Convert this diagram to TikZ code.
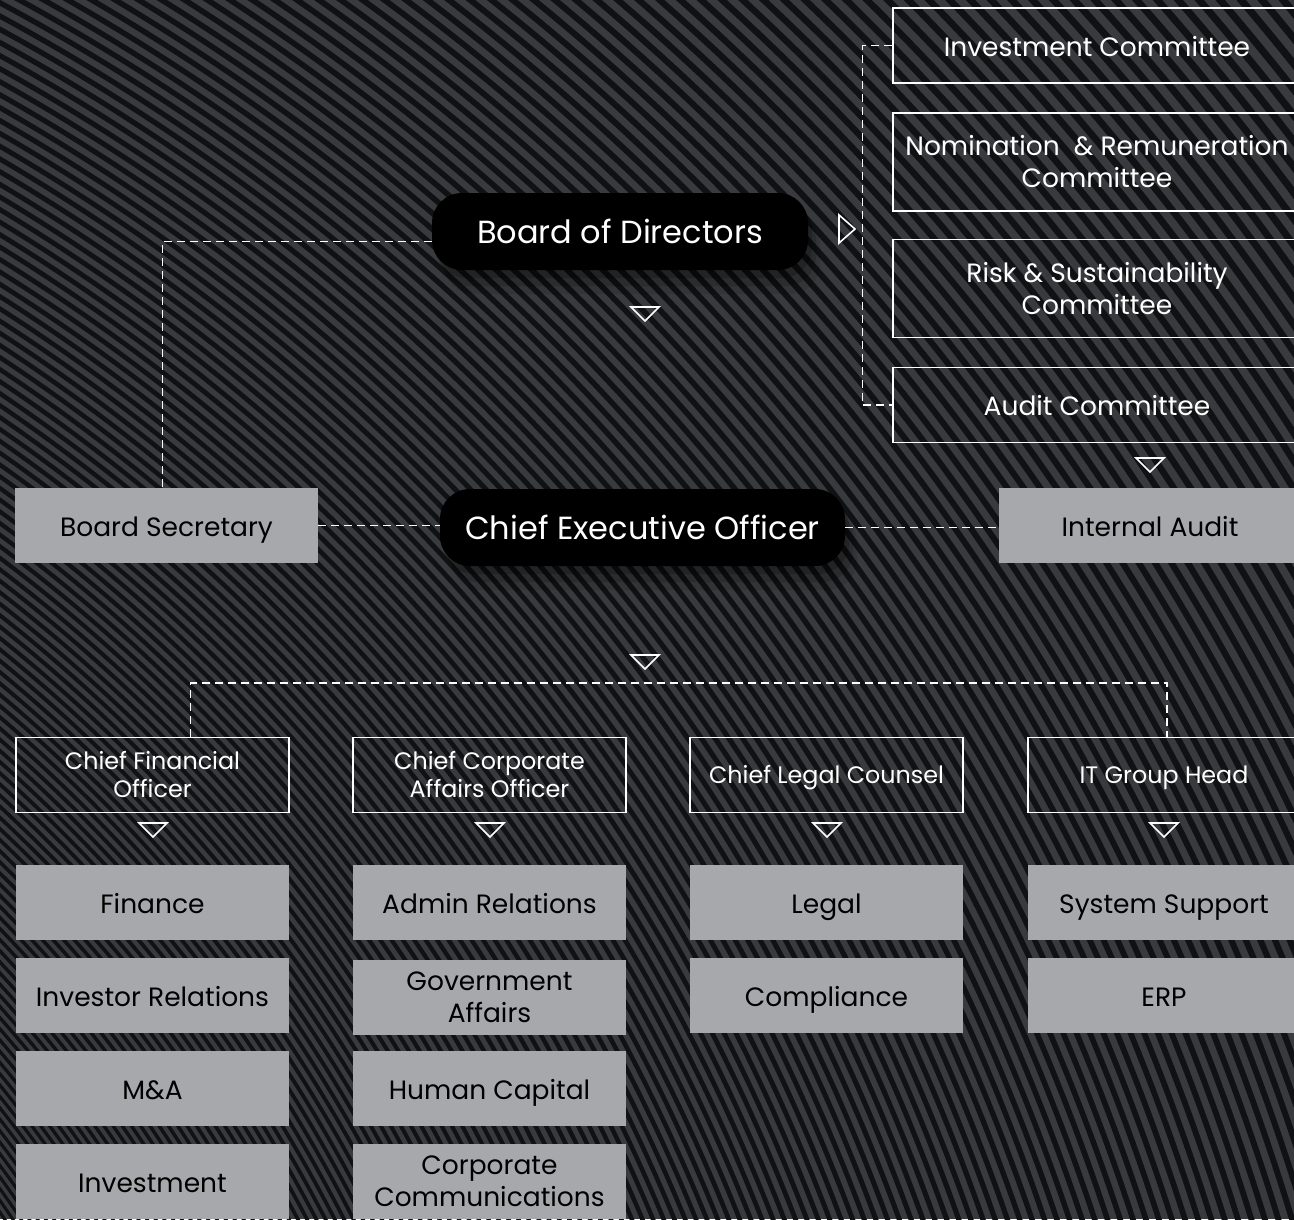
\documentclass[tikz,border=0pt]{standalone}
\usepackage{fontspec}
\setmainfont{Poppins}
\usepackage{tikz}
\usetikzlibrary{shadows}

\definecolor{bggray}{RGB}{56,58,61}
\definecolor{stripe}{RGB}{16,17,18}
\definecolor{unitgray}{RGB}{167,168,172}

\begin{document}
\begin{tikzpicture}%
        [x=1pt,
        y=-1pt,
        oneline/.style={text height=#1, text depth=0pt},
        oneline/.default=21.5pt,
        pill/.style={fill=black, text=white, rounded corners=30pt, inner sep=0pt, oneline=24.4pt,
          minimum height=77pt, font=\fontsize{32}{36}\selectfont,
          drop shadow={shadow xshift=4pt, shadow yshift=-8pt, opacity=0.18, fill=black},
          drop shadow={shadow xshift=8pt, shadow yshift=-16pt, opacity=0.14, fill=black},
          drop shadow={shadow xshift=12pt, shadow yshift=-24pt, opacity=0.10, fill=black}},
        committee/.style={draw=white, line width=1.4pt, text=white, inner sep=0pt, align=center,
          minimum width=408pt, font=\fontsize{26.5}{32}\selectfont},
        officer/.style={draw=white, line width=1.4pt, text=white, inner sep=0pt, align=center,
          minimum width=273pt, minimum height=75pt, font=\fontsize{23.8}{28}\selectfont},
        unit/.style={fill=unitgray, text=black, inner sep=0pt, align=center,
          minimum height=75pt, font=\fontsize{26.5}{32}\selectfont},
        link/.style={white, line width=1.4pt, dash pattern=on 8pt off 5pt},
        tip/.style={white, line width=1.6pt, line join=miter}]

    %% Background with the curved stripes
    \useasboundingbox (0,0) rectangle (1294,1219);
    \fill[bggray] (0,0) rectangle (1294,1219);
    \begin{scope}
      \clip (0,0) rectangle (1294,1219);
      \foreach \i [evaluate=\i as \r using 1240*1.0054^\i,
                   evaluate=\i as \w using 0.45*\r/185] in {0,...,168}
        \draw[stripe, line width=\w pt] (-1032,1924) circle[radius=\r];
    \end{scope}
    %%
    %% Board and committees
    %%
    \node[pill, minimum width=376pt] (bod) at (620,231.5) {Board of Directors};
    \node[committee, oneline, minimum height=75pt] (ic) at (1097,45.5) {Investment Committee};
    \node[committee, minimum height=98pt] (nrc) at (1097,162) {Nomination \ \& Remuneration\\Committee};
    \node[committee, minimum height=98pt] (rsc) at (1097,288.5) {Risk \& Sustainability\\Committee};
    \node[committee, oneline, minimum height=75pt] (ac) at (1097,405) {Audit Committee};
    %%
    %% CEO line
    %%
    \node[pill, minimum width=405pt] (ceo) at (642.5,527.5) {Chief Executive Officer};
    \node[unit, oneline, minimum width=303pt] (bsec) at (166.5,525.5) {Board Secretary};
    \node[unit, oneline, minimum width=302pt] (ia) at (1150,525.5) {Internal Audit};
    %%
    %% Officers
    %%
    \node[officer] (cfo) at (152.5,775) {Chief Financial\\Officer};
    \node[officer] (ccao) at (489.5,775) {Chief Corporate\\Affairs Officer};
    \node[officer, oneline=17.6pt] (clc) at (826.5,775) {Chief Legal Counsel};
    \node[officer, oneline=17.6pt, minimum width=272pt] (it) at (1164,775) {IT Group Head};
    %%
    %% Units
    %%
    \node[unit, oneline, minimum width=273pt] (fin) at (152.5,902.5) {Finance};
    \node[unit, oneline, minimum width=273pt] (ir) at (152.5,995.5) {Investor Relations};
    \node[unit, oneline, minimum width=273pt] (ma) at (152.5,1088.5) {M\&A};
    \node[unit, oneline, minimum width=273pt] (inv) at (152.5,1181.5) {Investment};
    \node[unit, oneline, minimum width=273pt] (adm) at (489.5,902.5) {Admin Relations};
    \node[unit, minimum width=273pt] (gov) at (489.5,997.5) {Government\\Affairs};
    \node[unit, oneline, minimum width=273pt] (hc) at (489.5,1088.5) {Human Capital};
    \node[unit, minimum width=273pt] (cc) at (489.5,1181.5) {Corporate\\Communications};
    \node[unit, oneline, minimum width=273pt] (leg) at (826.5,902.5) {Legal};
    \node[unit, oneline, minimum width=273pt] (comp) at (826.5,995.5) {Compliance};
    \node[unit, oneline, minimum width=272pt] (sys) at (1164,902.5) {System Support};
    \node[unit, oneline, minimum width=272pt] (erp) at (1164,995.5) {ERP};
    %%
    %% Dashed links
    %%
    \draw[link] ([yshift=-10pt]bod.west) -| ([xshift=-4pt]bsec.north);
    \draw[link] (ic.west) -- ++(-30,0) |- (ac.west);
    \draw[link] (bsec.east) -- (bsec.east -| ceo.west);
    \draw[link] (ceo.east) -- (ceo.east -| ia.west);
    \draw[link] ([xshift=38pt]cfo.north) -- ++(0,-54) -| ([xshift=3pt]it.north);
    %%
    %% Triangle marks
    %%
    \draw[tip] (839,215) -- (855,229) -- (839,243) -- cycle;
    \draw[tip] (631,307) -- (659,307) -- (645,321) -- cycle;
    \draw[tip] (1136,458) -- (1164,458) -- (1150,472) -- cycle;
    \draw[tip] (631,655) -- (659,655) -- (645,669) -- cycle;
    \draw[tip] (139,823) -- (167,823) -- (153,837) -- cycle;
    \draw[tip] (476,823) -- (504,823) -- (490,837) -- cycle;
    \draw[tip] (813,823) -- (841,823) -- (827,837) -- cycle;
    \draw[tip] (1150,823) -- (1178,823) -- (1164,837) -- cycle;
    %%
\end{tikzpicture}
\end{document}
